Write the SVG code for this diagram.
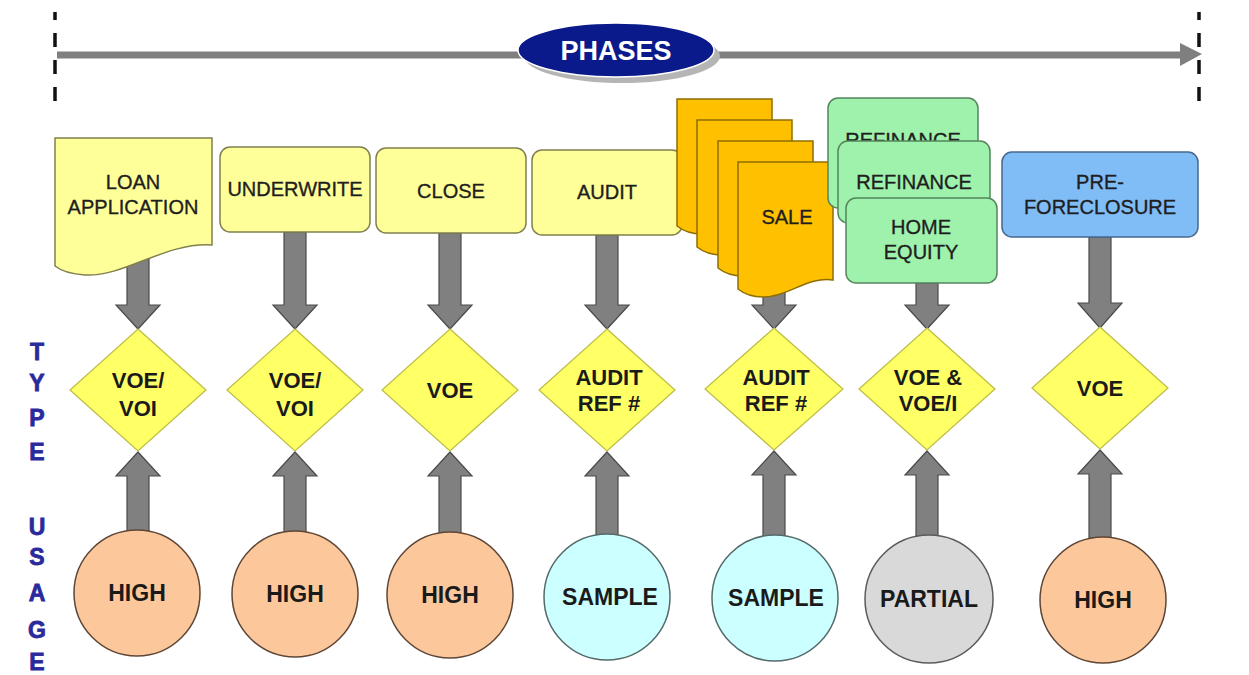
<svg xmlns="http://www.w3.org/2000/svg" width="1249" height="675" viewBox="0 0 1249 675">
<style>
text{font-family:"Liberation Sans",Arial,sans-serif;text-anchor:middle}
.bt{font-size:20px;fill:#1e1e1e;stroke:#1e1e1e;stroke-width:0.35}
.dt{font-size:22px;font-weight:bold;fill:#1a1a1a}
.ct{font-size:23px;font-weight:bold;fill:#1a1a1a}
.side{font-size:23px;font-weight:bold;fill:#2a2a9c;stroke:#2a2a9c;stroke-width:0.8}
.ybox{fill:#ffff99;stroke:#80804e;stroke-width:1.5}
.dia{fill:#ffff66;stroke:#bcbc44;stroke-width:1.2}
.orange{fill:#fcc89b;stroke:#5e4636;stroke-width:1.5}
.cyan{fill:#ccffff;stroke:#556a6a;stroke-width:1.5}
.grey{fill:#d9d9d9;stroke:#5a5a5a;stroke-width:1.5}
.sale{fill:#ffc000;stroke:#8e6e00;stroke-width:1.5}
.green{fill:#9ff2ac;stroke:#55855c;stroke-width:1.5}
.blue{fill:#80bcf6;stroke:#48688e;stroke-width:1.5}
.arr{fill:#808080;stroke:#4a4a4a;stroke-width:1.2}
.dash{stroke:#111;stroke-width:3.5;stroke-dasharray:14 13;stroke-dashoffset:6}
</style>
<defs>
<path id="page" d="M0,0 H95 V118 C70,114 50,135 25,135 C12,135 5,131 0,127 Z"/>
</defs>
<rect width="1249" height="675" fill="#ffffff"/>

<g id="timeline">
<line class="dash" x1="55" y1="12" x2="55" y2="104"/>
<line class="dash" x1="1199" y1="12" x2="1199" y2="104"/>
<line x1="57" y1="55" x2="1182" y2="55" stroke="#7f7f7f" stroke-width="7"/>
<polygon points="1180,43 1202,54 1180,66" fill="#7f7f7f"/>
</g>

<g id="phases">
<ellipse cx="622" cy="56" rx="98" ry="27" fill="#b5b5b5"/>
<ellipse cx="616" cy="50" rx="98" ry="27" fill="#0b1a8a" stroke="#ffffff" stroke-width="1.5"/>
<text x="616" y="60" style="font-size:27px;font-weight:bold;fill:#ffffff">PHASES</text>
</g>

<g id="side-labels">
<text class="side" x="37" y="360">T</text>
<text class="side" x="37" y="391">Y</text>
<text class="side" x="37" y="426">P</text>
<text class="side" x="37" y="460">E</text>
<text class="side" x="37" y="535">U</text>
<text class="side" x="37" y="565">S</text>
<text class="side" x="37" y="601">A</text>
<text class="side" x="37" y="638">G</text>
<text class="side" x="37" y="670">E</text>
</g>

<g id="connectors">
<polygon class="arr" points="127,255 149,255 149,305 160,305 138,329 116,305 127,305"/>
<polygon class="arr" points="284,232 306,232 306,305 317,305 295,329 273,305 284,305"/>
<polygon class="arr" points="439,233 461,233 461,305 472,305 450,329 428,305 439,305"/>
<polygon class="arr" points="596,235 618,235 618,305 629,305 607,329 585,305 596,305"/>
<polygon class="arr" points="763,280 785,280 785,305 796,305 774,329 752,305 763,305"/>
<polygon class="arr" points="916,283 938,283 938,305 949,305 927,329 905,305 916,305"/>
<polygon class="arr" points="1089,237 1111,237 1111,303 1122,303 1100,328 1078,303 1089,303"/>

<polygon class="arr" points="138,452 160,476 149,476 149,531 127,531 127,476 116,476"/>
<polygon class="arr" points="295,452 317,476 306,476 306,532 284,532 284,476 273,476"/>
<polygon class="arr" points="450,452 472,476 461,476 461,533 439,533 439,476 428,476"/>
<polygon class="arr" points="607,452 629,476 618,476 618,535 596,535 596,476 585,476"/>
<polygon class="arr" points="774,451 796,475 785,475 785,536 763,536 763,475 752,475"/>
<polygon class="arr" points="927,451 949,475 938,475 938,537 916,537 916,475 905,475"/>
<polygon class="arr" points="1100,450 1122,474 1111,474 1111,538 1089,538 1089,474 1078,474"/>
</g>

<g id="loan-application">
<path class="ybox" d="M55,138 H212 V245 C165,242 125,277 85,275 C70,274 60,270 55,266 Z"/>
<text class="bt" x="133" y="189">LOAN</text>
<text class="bt" x="133" y="214">APPLICATION</text>
</g>
<g id="underwrite">
<rect class="ybox" x="220" y="147" width="150" height="85" rx="10"/>
<text class="bt" x="295" y="196">UNDERWRITE</text>
</g>
<g id="close">
<rect class="ybox" x="376" y="148" width="150" height="85" rx="10"/>
<text class="bt" x="451" y="198">CLOSE</text>
</g>
<g id="audit">
<rect class="ybox" x="532" y="150" width="150" height="85" rx="10"/>
<text class="bt" x="607" y="199">AUDIT</text>
</g>
<g id="sale">
<use href="#page" class="sale" transform="translate(677,99)"/>
<use href="#page" class="sale" transform="translate(697,120)"/>
<use href="#page" class="sale" transform="translate(718,141)"/>
<use href="#page" class="sale" transform="translate(738,162)"/>
<text class="bt" x="787" y="224">SALE</text>
</g>
<g id="refinance-home-equity">
<rect class="green" x="828" y="98" width="150" height="110" rx="10"/>
<text class="bt" x="903" y="147">REFINANCE</text>
<rect class="green" x="838" y="141" width="152" height="82" rx="10"/>
<text class="bt" x="914" y="189">REFINANCE</text>
<rect class="green" x="846" y="198" width="151" height="85" rx="10"/>
<text class="bt" x="921" y="234">HOME</text>
<text class="bt" x="921" y="259">EQUITY</text>
</g>
<g id="pre-foreclosure">
<rect class="blue" x="1002" y="152" width="196" height="85" rx="10"/>
<text class="bt" x="1100" y="189">PRE-</text>
<text class="bt" x="1100" y="214">FORECLOSURE</text>
</g>

<g id="type-1">
<polygon class="dia" points="138,329 206,390 138,451 70,390"/>
<text class="dt" x="138" y="388">VOE/</text>
<text class="dt" x="138" y="416">VOI</text>
</g>
<g id="type-2">
<polygon class="dia" points="295,329 363,390 295,451 227,390"/>
<text class="dt" x="295" y="388">VOE/</text>
<text class="dt" x="295" y="416">VOI</text>
</g>
<g id="type-3">
<polygon class="dia" points="450,329 518,390 450,451 382,390"/>
<text class="dt" x="450" y="398">VOE</text>
</g>
<g id="type-4">
<polygon class="dia" points="607,329 675,390 607,451 539,390"/>
<text class="dt" x="609" y="385">AUDIT</text>
<text class="dt" x="609" y="411">REF #</text>
</g>
<g id="type-5">
<polygon class="dia" points="774,328 843,389 774,450 705,389"/>
<text class="dt" x="776" y="385">AUDIT</text>
<text class="dt" x="776" y="411">REF #</text>
</g>
<g id="type-6">
<polygon class="dia" points="927,328 995,389 927,450 859,389"/>
<text class="dt" x="928" y="385">VOE &amp;</text>
<text class="dt" x="928" y="411">VOE/I</text>
</g>
<g id="type-7">
<polygon class="dia" points="1100,327 1168,388 1100,449 1032,388"/>
<text class="dt" x="1100" y="396">VOE</text>
</g>

<g id="usage-1"><circle class="orange" cx="137" cy="593" r="63"/><text class="ct" x="137" y="601">HIGH</text></g>
<g id="usage-2"><circle class="orange" cx="295" cy="594" r="63"/><text class="ct" x="295" y="602">HIGH</text></g>
<g id="usage-3"><circle class="orange" cx="450" cy="595" r="63"/><text class="ct" x="450" y="603">HIGH</text></g>
<g id="usage-4"><circle class="cyan" cx="607" cy="597" r="63"/><text class="ct" x="610" y="605">SAMPLE</text></g>
<g id="usage-5"><circle class="cyan" cx="775" cy="598" r="63"/><text class="ct" x="776" y="606">SAMPLE</text></g>
<g id="usage-6"><circle class="grey" cx="929" cy="599" r="64"/><text class="ct" x="929" y="607">PARTIAL</text></g>
<g id="usage-7"><circle class="orange" cx="1103" cy="600" r="63"/><text class="ct" x="1103" y="608">HIGH</text></g>
</svg>
